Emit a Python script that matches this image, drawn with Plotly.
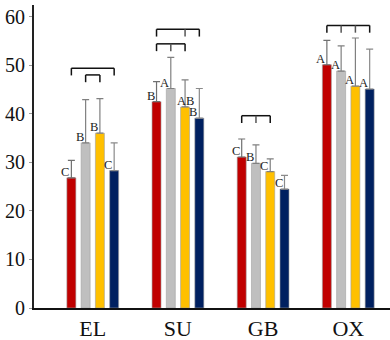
import plotly.graph_objects as go

categories = ["EL", "SU", "GB", "OX"]
series_names = ["S1", "S2", "S3", "S4"]
colors = ["#C00000", "#BFBFBF", "#FFC000", "#002060"]

# mean values per series (one value per category)
values = [
    [26.8, 42.5, 31.1, 50.1],
    [34.0, 45.2, 29.8, 48.8],
    [36.0, 41.4, 28.1, 45.7],
    [28.3, 39.1, 24.5, 45.1],
]
# upper end of the error bar
err_top = [
    [30.4, 46.6, 34.8, 55.1],
    [42.9, 51.6, 33.6, 54.0],
    [43.1, 47.0, 30.7, 55.6],
    [34.0, 45.2, 27.3, 53.3],
]
letters = [
    ["C", "B", "C", "A"],
    ["B", "A", "B", "A"],
    ["B", "AB", "C", "A"],
    ["C", "B", "C", "A"],
]
# brackets: (category index, first bar, last bar, inner tick bars, level)
brackets = [
    (0, 0, 3, [], 49.4),
    (0, 1, 2, [], 48.0),
    (1, 0, 3, [2], 57.4),
    (1, 0, 2, [1], 54.4),
    (2, 0, 2, [1], 39.6),
    (3, 0, 3, [1, 2], 58.2),
]
y_ticks = [0, 10, 20, 30, 40, 50, 60]

SERIF = "Liberation Serif, Times New Roman, Times, serif"
BARGAP = 0.33
SLOT = (1 - BARGAP) / 4

def bar_x(i, j):
    return i + (j - 1.5) * SLOT

fig = go.Figure()
x_idx = list(range(len(categories)))
err_colors = ["#707070", "#808080", "#808080", "#8a8a8a"]
for j, name in enumerate(series_names):
    fig.add_trace(go.Bar(
        x=x_idx, y=values[j], name=name,
        marker=dict(color=colors[j], line=dict(color="#a0a0a0", width=0.6)),
        error_y=dict(type="data", symmetric=False,
                     array=[t - v for t, v in zip(err_top[j], values[j])],
                     arrayminus=[0] * len(values[j]),
                     color=err_colors[j], thickness=1.2, width=3.5),
        showlegend=False, hoverinfo="skip",
    ))

annotations = []
for j in range(4):
    for i in range(4):
        lab = letters[j][i]
        annotations.append(dict(
            x=bar_x(i, j), y=values[j][i], text=lab, showarrow=False,
            xanchor="center", yanchor="middle",
            xshift=-6 if len(lab) == 1 else 0, yshift=6,
            font=dict(family=SERIF, size=12.5, color="#222"),
        ))

shapes = []
TICK = 1.5
for (i, a, b, mids, lvl) in brackets:
    x0, x1 = bar_x(i, a), bar_x(i, b)
    shapes.append(dict(type="line", x0=x0, x1=x1, y0=lvl, y1=lvl,
                       line=dict(color="#111", width=1.5)))
    for k in [a, b] + mids:
        xx = bar_x(i, k)
        shapes.append(dict(type="line", x0=xx, x1=xx, y0=lvl, y1=lvl - TICK,
                           line=dict(color="#111" if k in (a, b) else "#555", width=1.5)))

fig.update_layout(
    width=390, height=340,
    margin=dict(l=34, r=0, t=5, b=32),
    paper_bgcolor="white", plot_bgcolor="white",
    barmode="group", bargap=BARGAP, bargroupgap=0.37,
    annotations=annotations, shapes=shapes,
    font=dict(family=SERIF, color="#111"),
)
fig.update_xaxes(
    range=[-0.69, 3.49], tickvals=x_idx, ticktext=categories,
    showline=True, linecolor="#111", linewidth=2, ticks="",
    showgrid=False, zeroline=False,
    tickfont=dict(family=SERIF, size=22, color="#111"),
)
fig.update_yaxes(
    range=[0, 62.4], tickvals=y_ticks,
    showline=True, linecolor="#222", linewidth=2,
    ticks="outside", ticklen=3, tickcolor="#999", tickwidth=1,
    showgrid=False, zeroline=False,
    tickfont=dict(family=SERIF, size=20, color="#111"),
)

fig.write_html("out.html", config={"displayModeBar": False, "staticPlot": True},
               post_script="document.body.style.margin='0';document.body.style.overflow='hidden';")
